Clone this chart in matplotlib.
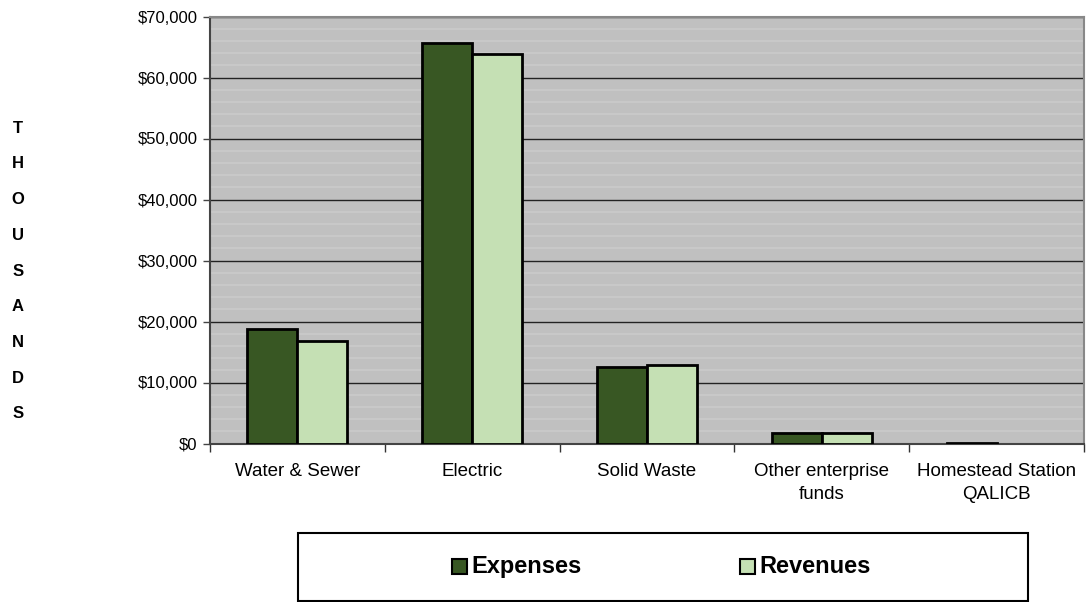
import matplotlib
matplotlib.use("Agg")
import matplotlib.pyplot as plt
from matplotlib.patches import Rectangle
from matplotlib.ticker import FuncFormatter, MultipleLocator
import numpy as np

categories = ["Water & Sewer", "Electric", "Solid Waste", "Other enterprise\nfunds", "Homestead Station\nQALICB"]
expenses = [18700, 65700, 12500, 1650, 150]
revenues = [16850, 63900, 12800, 1650, 0]
series_names = ["Expenses", "Revenues"]
colors = ["#385723", "#C5E0B4"]

plt.rcParams['font.family'] = ['Liberation Sans', 'DejaVu Sans']

W, H = 1086, 602
fig = plt.figure(figsize=(W/100, H/100), dpi=100)
ax = fig.add_axes([210/W, 1-443.5/H, (1084-210)/W, 427/H])
ax.set_facecolor("#C0C0C0")

x = np.arange(len(categories))
w = 0.286
ax.bar(x - w/2, expenses, w, color=colors[0], edgecolor="black",
       linewidth=[2 if v > 0 else 0 for v in expenses], zorder=3)
ax.bar(x + w/2, revenues, w, color=colors[1], edgecolor="black",
       linewidth=[2 if v > 0 else 0 for v in revenues], zorder=3)

ax.set_xlim(-0.5, len(categories) - 0.5)
ax.set_ylim(0, 70000)
ax.yaxis.set_major_locator(MultipleLocator(10000))
ax.yaxis.set_minor_locator(MultipleLocator(2000))
ax.yaxis.set_major_formatter(FuncFormatter(lambda v, p: f"${v:,.0f}"))
ax.grid(axis="y", which="major", color="#222222", linewidth=1, zorder=1)
ax.grid(axis="y", which="minor", color="#CACACA", linewidth=1.2, zorder=0.5)
ax.tick_params(axis="y", which="minor", length=0)
ax.tick_params(axis="y", which="major", length=5, width=1, color="#444444", labelsize=12, pad=4)

ax.set_xticks(np.arange(-0.5, len(categories)), minor=False)
ax.set_xticklabels([])
ax.set_xticks(x, minor=True)
ax.set_xticklabels(categories, minor=True, fontsize=13.5, linespacing=1.45)
ax.tick_params(axis="x", which="major", length=6, width=1, color="#333333")
ax.tick_params(axis="x", which="minor", length=0, pad=14)

for s in ["left", "bottom"]:
    ax.spines[s].set_color("#444444")
    ax.spines[s].set_linewidth(1.5)
for s in ["top", "right"]:
    ax.spines[s].set_color("#888888")
    ax.spines[s].set_linewidth(1.5)

letters = "THOUSANDS"
y0, y1 = 128, 414
for i, ch in enumerate(letters):
    yy = y0 + (y1 - y0) * i / (len(letters) - 1)
    fig.text(18/W, 1 - yy/H, ch, ha="center", va="center", fontsize=12, fontweight="bold")

# legend box (drawn by hand)
bx0, bx1, by0, by1 = 298, 1028, 532.5, 600.5
fig.add_artist(Rectangle((bx0/W, 1-by1/H), (bx1-bx0)/W, (by1-by0)/H,
                         transform=fig.transFigure, facecolor="white",
                         edgecolor="black", linewidth=1.5))
entries = [(452, 471), (740, 759)]
for (mx, tx), name, c in zip(entries, series_names, colors):
    fig.add_artist(Rectangle((mx/W, 1-574/H), 15/W, 15/H, transform=fig.transFigure,
                             facecolor=c, edgecolor="black", linewidth=1.5))
    fig.text(tx/W, 1-566.5/H, name, ha="left", va="center", fontsize=17, fontweight="bold")

fig.savefig("out.png", dpi=100)
